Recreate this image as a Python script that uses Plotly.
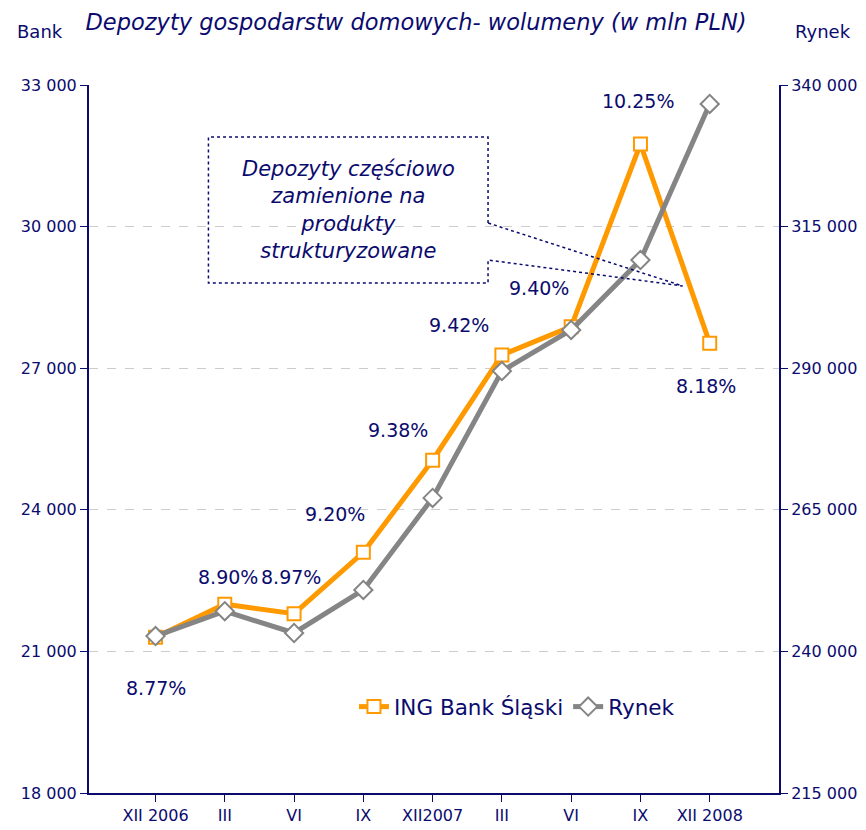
import plotly.graph_objects as go

# data
months = ["XII 2006", "III", "VI", "IX", "XII2007", "III", "VI", "IX", "XII 2008"]
bank = [21300, 22000, 21800, 23100, 25050, 27280, 27880, 31750, 27530]
rynek = [242700, 247100, 243250, 250850, 267100, 289500, 296750, 309100, 336650]
share = ["8.77%", "8.90%", "8.97%", "9.20%", "9.38%", "9.42%", "9.40%", "10.25%", "8.18%"]

bank_ticks = [18000, 21000, 24000, 27000, 30000, 33000]
rynek_ticks = [215000, 240000, 265000, 290000, 315000, 340000]

NAVY = "#0b0b6e"
ORANGE = "#ff9900"
GREY = "#858585"
FONT = "DejaVu Sans"

idx = list(range(len(months)))

def fmt(v):
    return f"{v:,}".replace(",", " ")

fig = go.Figure()
fig.add_trace(go.Scatter(
    x=idx, y=bank, name="ING Bank Śląski", mode="lines+markers",
    line=dict(color=ORANGE, width=5),
    marker=dict(symbol="square", size=13, color="white", line=dict(color=ORANGE, width=2)),
    cliponaxis=False,
))
fig.add_trace(go.Scatter(
    x=idx, y=rynek, name="Rynek", mode="lines+markers", yaxis="y2",
    line=dict(color=GREY, width=5),
    marker=dict(symbol="diamond", size=14, color="white", line=dict(color=GREY, width=2)),
    cliponaxis=False,
))

# percentage labels (placement in category / left-axis units)
label_pos = [(0.0, 20230), (1.04, 22580), (1.95, 22580), (2.59, 23910), (3.5, 25690),
             (4.38, 27915), (5.53, 28700), (6.96, 32660), (7.94, 26620)]
for txt, (lx, ly) in zip(share, label_pos):
    fig.add_annotation(x=lx, y=ly, text=txt, showarrow=False,
                       font=dict(size=19, color=NAVY, family=FONT))

# callout box
fig.add_shape(type="path", xref="x", yref="y",
              path="M 4.80,30076 L 4.80,31898 L 0.764,31898 L 0.764,28805 L 4.80,28805 "
                   "L 4.80,29292 L 7.61,28742 Z",
              line=dict(color=NAVY, width=1.5, dash="dot"), fillcolor="rgba(255,255,255,0)")
fig.add_annotation(x=2.78, y=30350, xref="x", yref="y", showarrow=False,
                   text="<i>Depozyty częściowo<br>zamienione na<br>produkty<br>strukturyzowane</i>",
                   font=dict(size=21, color=NAVY, family=FONT), align="center")

fig.add_annotation(x=-0.071, y=1.075, xref="paper", yref="paper", text="Bank", showarrow=False,
                   font=dict(size=18, color=NAVY, family=FONT), xanchor="center", yanchor="middle")
fig.add_annotation(x=1.064, y=1.075, xref="paper", yref="paper", text="Rynek", showarrow=False,
                   font=dict(size=18, color=NAVY, family=FONT), xanchor="center", yanchor="middle")

# page body has an 8px margin, so the figure is 8px smaller and shifted
fig.update_layout(
    width=858, height=822,
    margin=dict(l=81, r=87, t=77, b=37),
    paper_bgcolor="white", plot_bgcolor="white",
    font=dict(family=FONT, color=NAVY, size=16),
    title=dict(text="<i>Depozyty gospodarstw domowych- wolumeny (w mln PLN)</i>",
               x=0.474, xref="paper", xanchor="center", y=0.983, yanchor="middle",
               font=dict(size=22.5, color=NAVY, family=FONT)),
    showlegend=True,
    legend=dict(orientation="h", x=0.384, y=0.122, xanchor="left", yanchor="middle",
                bgcolor="rgba(0,0,0,0)", font=dict(size=21.5, color=NAVY, family=FONT)),
    xaxis=dict(range=[-0.96, 9.0], tickvals=idx, ticktext=months, showgrid=False,
               showline=True, linecolor=NAVY, linewidth=2, ticks="outside", ticklen=7,
               tickcolor=NAVY, tickfont=dict(size=16, color=NAVY), zeroline=False,
               automargin=False),
    yaxis=dict(range=[18000, 33000], tickvals=bank_ticks, ticktext=[fmt(v) for v in bank_ticks],
               showline=True, linecolor=NAVY, linewidth=2, ticks="outside", ticklen=7,
               tickcolor=NAVY, showgrid=True, gridcolor="#cccccc", griddash="dash",
               gridwidth=1, zeroline=False, tickfont=dict(size=16, color=NAVY),
               automargin=False),
    yaxis2=dict(range=[215000, 340000], overlaying="y", side="right",
                tickvals=rynek_ticks, ticktext=[fmt(v) for v in rynek_ticks],
                showline=True, linecolor=NAVY, linewidth=2, ticks="outside", ticklen=7,
                tickcolor=NAVY, showgrid=False, zeroline=False,
                tickfont=dict(size=16, color=NAVY), automargin=False),
)

fig.write_html("out.html")
